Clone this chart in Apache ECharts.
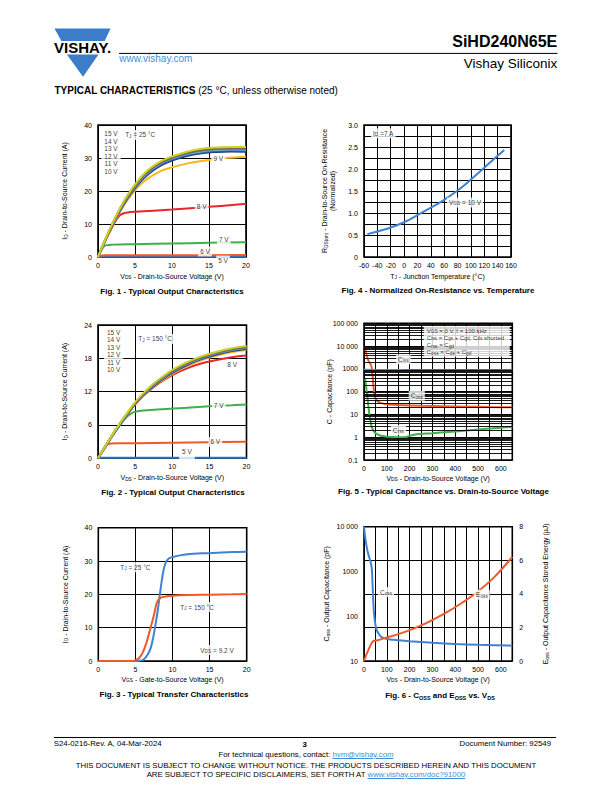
<!DOCTYPE html>
<html><head><meta charset="utf-8">
<script src="https://cdn.jsdelivr.net/npm/echarts@6/dist/echarts.min.js"></script>
<style>
html,body{margin:0;padding:0;background:#fff}
body{width:612px;height:792px;position:relative;overflow:hidden;font-family:"Liberation Sans",Arial,Helvetica,sans-serif;color:#000}
.t{position:absolute;white-space:nowrap;line-height:1}
.cap{position:absolute;width:260px;text-align:center;font-weight:bold;font-size:8px;line-height:1;white-space:nowrap}
.cap sub{font-size:5.5px;vertical-align:-1.5px;line-height:0}
a{color:#3d8fd6}
</style></head><body>
<div id="main" style="position:absolute;left:0;top:0;width:612px;height:792px"></div>

<svg style="position:absolute;left:0;top:0" width="612" height="100">
  <polygon points="54.5,28.6 110.6,28.6 104.7,41 61.4,41" fill="#3b7dc8"/>
  <polygon points="66.9,54.5 98.5,54.5 83,76.8" fill="#3b7dc8"/>
  <text x="82.6" y="53.3" text-anchor="middle" font-family="Liberation Sans, Arial, sans-serif" font-weight="bold" font-size="14" textLength="57" lengthAdjust="spacingAndGlyphs" fill="#000">VISHAY.</text>
  <line x1="119" y1="53.4" x2="557.5" y2="53.4" stroke="#000" stroke-width="1"/>
</svg>
<div class="t" style="left:119.2px;top:53.8px;font-size:10px;color:#3d8fd6">www.vishay.com</div>
<div class="t" style="right:54.8px;top:34px;font-size:16px;font-weight:bold">SiHD240N65E</div>
<div class="t" style="right:54.8px;top:56.8px;font-size:13.5px">Vishay Siliconix</div>
<div class="t" style="left:54.5px;top:85.5px;font-size:10px"><b>TYPICAL CHARACTERISTICS</b> (25 °C, unless otherwise noted)</div>

<div class="cap" style="left:42px;top:287.8px">Fig. 1 - Typical Output Characteristics</div>
<div class="cap" style="left:308px;top:286.5px">Fig. 4 - Normalized On-Resistance vs. Temperature</div>
<div class="cap" style="left:43px;top:489.4px">Fig. 2 - Typical Output Characteristics</div>
<div class="cap" style="left:313.5px;top:487.5px">Fig. 5 - Typical Capacitance vs. Drain-to-Source Voltage</div>
<div class="cap" style="left:44px;top:691px">Fig. 3 - Typical Transfer Characteristics</div>
<div class="cap" style="left:310px;top:691.6px">Fig. 6 - C<sub>OSS</sub> and E<sub>OSS</sub> vs. V<sub>DS</sub></div>

<div style="position:absolute;left:53.8px;top:737.2px;width:502.7px;border-top:1px solid #000"></div>
<div class="t" style="left:53.8px;top:740px;font-size:7.8px">S24-0216-Rev. A, 04-Mar-2024</div>
<div class="t" style="left:302.5px;top:740.5px;font-size:7.8px;font-weight:bold">3</div>
<div class="t" style="right:61px;top:740px;font-size:7.8px">Document Number: 92549</div>
<div class="t" style="left:0;width:612px;text-align:center;top:751px;font-size:7.8px">For technical questions, contact: <a href="#">hvm@vishay.com</a></div>
<div class="t" style="left:0;width:612px;text-align:center;top:762.4px;font-size:7.8px">THIS DOCUMENT IS SUBJECT TO CHANGE WITHOUT NOTICE. THE PRODUCTS DESCRIBED HEREIN AND THIS DOCUMENT</div>
<div class="t" style="left:0;width:612px;text-align:center;top:770.9px;font-size:7.8px">ARE SUBJECT TO SPECIFIC DISCLAIMERS, SET FORTH AT <a href="#">www.vishay.com/doc?91000</a></div>

<script>
// ================= DATA =================
// Fig. 1 - output characteristics, TJ = 25 °C : [VDS (V), ID (A)]
const f1_15V = [[0,0],[1,5.4],[2,10.4],[3,14.9],[4,18.8],[5,22.0],[6,24.7],[7,26.8],[8,28.4],[9,29.6],[10,30.5],[12,31.9],[14,32.8],[16,33.2],[18,33.35],[20,33.3]];
const f1_14V = [[0,0],[1,5.3],[2,10.3],[3,14.8],[4,18.6],[5,21.8],[6,24.5],[7,26.6],[8,28.2],[9,29.4],[10,30.3],[12,31.7],[14,32.6],[16,33.0],[18,33.15],[20,33.1]];
const f1_13V = [[0,0],[1,5.3],[2,10.2],[3,14.6],[4,18.4],[5,21.6],[6,24.2],[7,26.3],[8,27.9],[9,29.1],[10,30.0],[12,31.4],[14,32.3],[16,32.7],[18,32.85],[20,32.8]];
const f1_12V = [[0,0],[1,5.2],[2,10.1],[3,14.5],[4,18.2],[5,21.4],[6,24.0],[7,26.1],[8,27.7],[9,28.9],[10,29.8],[12,31.2],[14,32.0],[16,32.4],[18,32.55],[20,32.5]];
const f1_11V = [[0,0],[1,5.2],[2,10.0],[3,14.3],[4,18.0],[5,21.2],[6,23.8],[7,25.8],[8,27.4],[9,28.6],[10,29.5],[12,30.9],[14,31.7],[16,32.1],[18,32.25],[20,32.2]];
const f1_10V = [[0,0],[1,5.1],[2,9.9],[3,14.1],[4,17.8],[5,20.9],[6,23.5],[7,25.5],[8,27.1],[9,28.3],[10,29.2],[12,30.6],[14,31.4],[16,31.8],[18,31.95],[20,31.9]];
const f1_9V  = [[0,0],[1,5.0],[2,9.7],[3,13.8],[4,17.3],[5,20.2],[6,22.5],[7,24.2],[8,25.5],[9,26.5],[10,27.2],[12,28.3],[14,29.1],[16,29.7],[18,30.1],[20,30.4]];
const f1_8V  = [[0,0],[1,5.0],[2,9.4],[2.5,11.4],[3,12.7],[3.5,13.25],[4,13.5],[5,13.7],[10,14.4],[15,15.2],[20,16.1]];
const f1_7V  = [[0,0],[0.5,2.3],[0.8,3.2],[1.2,3.6],[2,3.75],[5,3.9],[10,4.1],[15,4.3],[20,4.5]];
const f1_6V  = [[0,0],[0.3,0.4],[1,0.5],[10,0.55],[20,0.6]];
const f1_5V  = [[0,0],[0.5,0.05],[20,0.08]];

// Fig. 2 - output characteristics, TJ = 150 °C : [VDS (V), ID (A)]
const f2_15V = [[0,0],[1,2.2],[2,4.4],[3,6.4],[4,8.3],[5,10.1],[6,11.6],[7,12.9],[8,14.0],[9,15.0],[10,15.9],[12,17.3],[14,18.4],[16,19.2],[18,19.8],[20,20.2]];
const f2_14V = [[0,0],[1,2.2],[2,4.4],[3,6.4],[4,8.2],[5,10.0],[6,11.5],[7,12.8],[8,13.9],[9,14.9],[10,15.8],[12,17.2],[14,18.3],[16,19.1],[18,19.7],[20,20.1]];
const f2_13V = [[0,0],[1,2.2],[2,4.3],[3,6.3],[4,8.2],[5,9.9],[6,11.4],[7,12.7],[8,13.8],[9,14.8],[10,15.7],[12,17.1],[14,18.2],[16,19.0],[18,19.6],[20,20.0]];
const f2_12V = [[0,0],[1,2.2],[2,4.3],[3,6.3],[4,8.1],[5,9.9],[6,11.3],[7,12.6],[8,13.7],[9,14.7],[10,15.6],[12,17.0],[14,18.1],[16,18.9],[18,19.5],[20,19.9]];
const f2_11V = [[0,0],[1,2.1],[2,4.3],[3,6.2],[4,8.1],[5,9.8],[6,11.3],[7,12.5],[8,13.6],[9,14.6],[10,15.5],[12,16.9],[14,18.0],[16,18.8],[18,19.4],[20,19.8]];
const f2_10V = [[0,0],[1,2.1],[2,4.2],[3,6.2],[4,8.0],[5,9.8],[6,11.2],[7,12.4],[8,13.5],[9,14.5],[10,15.4],[12,16.8],[14,17.9],[16,18.7],[18,19.3],[20,19.7]];
const f2_9V  = [[0,0],[1,2.1],[2,4.2],[3,6.2],[4,8.0],[5,9.7],[6,11.1],[7,12.3],[8,13.4],[9,14.3],[10,15.2],[12,16.6],[14,17.7],[16,18.5],[18,19.1],[20,19.5]];
const f2_8V  = [[0,0],[1,2.1],[2,4.2],[3,6.2],[4,8.0],[5,9.7],[6,11.1],[7,12.3],[8,13.3],[9,14.2],[10,15.0],[12,16.2],[14,17.1],[16,17.7],[18,18.2],[20,18.5]];
const f2_7V  = [[0,0],[1,2.1],[2,4.2],[3,6.0],[3.5,6.9],[4,7.6],[4.5,8.1],[5,8.4],[6,8.6],[8,8.8],[10,8.95],[12,9.1],[15,9.35],[18,9.55],[20,9.7]];
const f2_6V  = [[0,0],[0.5,1.1],[1,2.1],[1.3,2.5],[1.8,2.65],[3,2.7],[5,2.72],[10,2.8],[15,2.9],[20,3.0]];
const f2_5V  = [[0,0],[0.5,0.08],[1,0.1],[20,0.12]];

// Fig. 3 - transfer characteristics : [VGS (V), ID (A)]
const f3_25C  = [[0,0],[4,0],[5,0],[5.5,0.05],[6,0.3],[6.5,1.4],[7,3.5],[7.3,6],[7.6,9.5],[8,15],[8.3,20],[8.6,24.8],[8.9,28.3],[9.2,30.0],[9.6,30.9],[10,31.2],[11,31.7],[12,32.0],[14,32.3],[16,32.5],[18,32.7],[20,32.8]];
const f3_150C = [[0,0],[4.5,0],[5,0.2],[5.5,0.9],[6,2.6],[6.5,5.6],[7,9.6],[7.5,13.8],[7.8,16.8],[8.0,18.0],[8.3,18.8],[8.7,19.2],[9.2,19.4],[10,19.6],[12,19.8],[15,19.9],[18,20.0],[20,20.1]];

// Fig. 4 - normalized RDS(on) vs TJ : [TJ (°C), RDS(on) norm.]
const f4_rds = [[-55,0.52],[-40,0.58],[-20,0.67],[0,0.79],[20,0.95],[40,1.12],[60,1.3],[80,1.51],[100,1.76],[120,2.03],[140,2.3],[150,2.43]];

// Fig. 5 - capacitance vs VDS : [VDS (V), C (pF)]
const f5_ciss = [[0,950],[20,920],[50,900],[100,890],[200,880],[300,875],[400,870],[500,865],[650,860]];
const f5_coss = [[3,9000],[8,5500],[15,3000],[22,2000],[30,1500],[34,1100],[37,600],[40,250],[43,120],[48,60],[55,42],[70,33],[100,28],[150,26],[250,24],[350,23],[450,22],[550,21],[650,20.5]];
const f5_crss = [[5,360],[10,150],[15,55],[20,20],[23,11],[28,5.5],[34,2.7],[45,1.7],[55,1.4],[75,1.15],[100,1.05],[150,1.0],[185,1.02],[205,1.2],[230,1.35],[300,1.5],[400,1.8],[500,2.2],[600,2.6],[650,2.85]];

// Fig. 6 - Coss (pF) and Eoss (µJ) vs VDS
const f6_coss = [[0,10000],[5,6000],[12,3500],[20,2300],[28,1700],[33,1300],[36,800],[38,450],[41,200],[44,115],[50,65],[56,49],[65,40],[77,34],[100,31],[150,29],[200,27.5],[300,25.5],[400,24],[500,23],[650,22]];
const f6_eoss = [[0,0],[37,1.15],[60,1.24],[100,1.4],[150,1.6],[200,1.84],[275,2.27],[350,2.8],[420,3.38],[495,4.1],[570,4.98],[650,6.2]];

// annotation texts (anchored in data coordinates)
const f1Notes = [[1.76,31.7,'15 V\n14 V\n13 V\n12 V\n11 V\n10 V'],[5.7,37.0,'T_{J} = 25 °C'],[16.26,29.9,'9 V'],[14.0,15.45,'8 V'],[17.0,5.35,'7 V'],[14.46,1.7,'6 V'],[16.9,-1.1,'5 V']];
const f2Notes = [[2.1,19.36,'15 V\n14 V\n13 V\n12 V\n11 V\n10 V'],[7.7,21.5,'T_{J} = 150 °C'],[18.07,16.8,'8 V'],[16.26,9.56,'7 V'],[15.8,2.95,'6 V'],[11.98,0.9,'5 V']];
const f3Notes = [[5.0,28.1,'T_{J} = 25 °C'],[13.3,16.2,'T_{J} = 150 °C'],[16.0,3.3,'V_{DS} = 9.2 V']];
const f4Notes = [[-31.1,2.81,'I_{D} =7 A'],[91.2,1.24,'V_{GS} = 10 V']];
const f5Notes = [[172.6,2630,'C_{iss}'],[231.3,66,'C_{oss}'],[150.7,2.06,'C_{rss}']];
const f5Legend = [[262,76000,'V_{GS} = 0 V, f = 100 kHz\nC_{iss} = C_{gs} + C_{gd}, C_{ds} shorted\nC_{rss} = C_{gd}\nC_{oss} = C_{ds} + C_{gd}']];
const f6Notes = [[96.6,347,'C_{oss}'],[517,302,'E_{oss}']];

// ================= CHART =================
const F = '"Liberation Sans", Arial, Helvetica, sans-serif';
const RICH = { s: { fontSize: 4.8, lineHeight: 4, verticalAlign: 'bottom', fontFamily: F, color: '#000' } };
const sub = t => t.replace(/_\{([^}]*)\}/g, '{s|$1}');
const grids = [], xAxes = [], yAxes = [], series = [];

function mkAxis(d, gi, kind) {
  const a = {
    type: d.log ? 'log' : 'value', gridIndex: gi, min: d.min, max: d.max,
    position: kind === 'x' ? 'bottom' : (kind === 'y' ? 'left' : 'right'),
    name: sub(d.name), nameLocation: 'middle', nameGap: d.gap, nameRotate: kind === 'x' ? 0 : 90,
    nameMoveOverlap: false,
    nameTextStyle: { fontFamily: F, fontSize: 7, color: '#000', lineHeight: 8.4, rich: RICH },
    axisLine: { show: false }, axisTick: { show: false }, minorTick: { show: false },
    axisLabel: { fontFamily: F, fontSize: 7, color: '#000', margin: d.margin, formatter: d.fmt, showMinLabel: true, showMaxLabel: true, hideOverlap: false },
    splitLine: { show: d.split !== false, lineStyle: { color: '#000', width: 1 } }
  };
  if (d.log) a.logBase = 10; else a.interval = d.interval;
  return a;
}

function addChart(c) {
  const gi = grids.length;
  grids.push({ left: c.box[0], top: c.box[1], width: c.box[2], height: c.box[3], show: true,
    borderColor: '#000', borderWidth: 1.6, backgroundColor: 'rgba(0,0,0,0)', containLabel: false, outerBoundsMode: 'none' });
  const xi = xAxes.length; xAxes.push(mkAxis(c.x, gi, 'x'));
  const yi = yAxes.length; yAxes.push(mkAxis(c.y, gi, 'y'));
  let yi2 = yi;
  if (c.y2) { yi2 = yAxes.length; yAxes.push(mkAxis(c.y2, gi, 'y2')); }
  if (c.minor) {
    series.push({ type: 'line', xAxisIndex: xi, yAxisIndex: yi, data: [], z: 1, silent: true, showSymbol: false,
      markLine: { silent: true, symbol: 'none', animation: false, label: { show: false },
        lineStyle: { color: '#000', width: 0.9, type: 'solid' }, data: c.minor.map(v => ({ yAxis: v })) } });
  }
  c.lines.forEach(l => series.push({ type: 'line', xAxisIndex: xi, yAxisIndex: l.right ? yi2 : yi, data: l.data,
    showSymbol: false, symbol: 'none', smooth: l.smooth == null ? 0.4 : l.smooth, z: 3, silent: true,
    lineStyle: { color: l.color, width: l.width || 2 }, animation: false }));
  (c.notes || []).forEach(group => {
    const notes = group.items;
    series.push({ type: 'scatter', xAxisIndex: xi, yAxisIndex: yi, symbolSize: 0, z: 10, clip: false, silent: true, animation: false,
      data: notes.map(n => ({ value: [n[0], n[1]] })),
      label: { show: true, position: 'inside', formatter: p => sub(notes[p.dataIndex][2]),
        align: group.align || 'center', verticalAlign: group.valign || 'middle',
        fontFamily: F, fontSize: group.fs || 6.5, color: '#000', backgroundColor: '#fff',
        padding: group.pad || [1, 2], lineHeight: group.lh || 8, width: group.width, rich: RICH } });
  });
}

const fmt0 = v => String(v);
const fmtHalf = v => (Math.abs(v * 2 - Math.round(v * 2)) < 1e-6 ? (v === 0 ? '0' : v.toFixed(1)) : '');
const fmt100 = v => (Math.abs(v % 100) < 1e-6 ? String(v) : '');
const fmtLog = v => { const n = +(+v).toPrecision(3); return n >= 10000 ? String(n).replace(/\B(?=(\d{3})+(?!\d))/g, ' ') : String(n); };

const C = { lime: '#c9d52c', brown: '#8e5a2c', gray: '#6e6f72', lblue: '#6aaedc', blue: '#2f62b0', navy: '#1f3b7c',
  gold: '#f8b81c', red: '#e8262b', green: '#3fb04a', orange: '#f0592a', blue5: '#2f74c8', mblue: '#3f82d4' };

// Fig 1
addChart({ box: [98, 125, 148, 132],
  x: { min: 0, max: 20, interval: 5, name: 'V_{DS} - Drain-to-Source Voltage (V)', gap: 15, margin: 5, fmt: fmt0 },
  y: { min: 0, max: 40, interval: 10, name: 'I_{D} - Drain-to-Source Current (A)', gap: 29, margin: 6, fmt: fmt0 },
  lines: [ { data: f1_5V, color: C.blue5 }, { data: f1_6V, color: C.orange }, { data: f1_7V, color: C.green },
    { data: f1_8V, color: C.red }, { data: f1_9V, color: C.gold }, { data: f1_10V, color: C.navy },
    { data: f1_11V, color: C.blue }, { data: f1_12V, color: C.lblue }, { data: f1_13V, color: C.gray },
    { data: f1_14V, color: C.brown }, { data: f1_15V, color: C.lime } ],
  notes: [ { items: f1Notes.slice(0, 1), lh: 7.5, pad: [1, 3] }, { items: f1Notes.slice(1) } ] });

// Fig 4
addChart({ box: [364, 125, 147, 132],
  x: { min: -60, max: 160, interval: 20, name: 'T_{J} - Junction Temperature (°C)', gap: 15, margin: 5, fmt: fmt0 },
  y: { min: 0, max: 3, interval: 0.25, name: 'R_{DS(on)} - Drain-to-Source On-Resistance\n(Normalized)', gap: 27, margin: 6, fmt: fmtHalf },
  lines: [ { data: f4_rds, color: C.mblue } ],
  notes: [ { items: f4Notes } ] });

// Fig 2
addChart({ box: [98, 325, 148.5, 133.3],
  x: { min: 0, max: 20, interval: 5, name: 'V_{DS} - Drain-to-Source Voltage (V)', gap: 15, margin: 5, fmt: fmt0 },
  y: { min: 0, max: 24, interval: 6, name: 'I_{D} - Drain-to-Source Current (A)', gap: 29, margin: 6, fmt: fmt0 },
  lines: [ { data: f2_5V, color: C.blue5 }, { data: f2_6V, color: C.orange }, { data: f2_7V, color: C.green },
    { data: f2_8V, color: C.red }, { data: f2_9V, color: C.gold }, { data: f2_10V, color: C.navy },
    { data: f2_11V, color: C.blue }, { data: f2_12V, color: C.lblue }, { data: f2_13V, color: C.gray },
    { data: f2_14V, color: C.brown }, { data: f2_15V, color: C.lime } ],
  notes: [ { items: f2Notes.slice(0, 1), lh: 7.5, pad: [1, 3] }, { items: f2Notes.slice(1, 5) }, { items: f2Notes.slice(5), pad: [1, 3, 4, 3] } ] });

// Fig 5
const minor5 = [];
[0.1, 1, 10, 100, 1000, 10000].forEach(d => { for (let m = 2; m <= 9; m++) minor5.push(+(m * d).toPrecision(3)); });
addChart({ box: [364, 323.3, 148.3, 136.7],
  x: { min: 0, max: 650, interval: 50, name: 'V_{DS} - Drain-to-Source Voltage (V)', gap: 14, margin: 5, fmt: fmt100 },
  y: { log: true, min: 0.1, max: 100000, name: 'C - Capacitance (pF)', gap: 30, margin: 6, fmt: fmtLog },
  minor: minor5,
  lines: [ { data: f5_ciss, color: '#4a8fd6' }, { data: f5_coss, color: C.orange, smooth: 0.25 }, { data: f5_crss, color: C.green, smooth: 0.25 } ],
  notes: [ { items: f5Notes }, { items: f5Legend, align: 'left', valign: 'top', lh: 7.2, fs: 6, pad: [1, 1, 1, 3], width: 82 } ] });

// Fig 3
addChart({ box: [98.3, 527.7, 148.4, 133.3],
  x: { min: 0, max: 20, interval: 5, name: 'V_{GS} - Gate-to-Source Voltage (V)', gap: 14, margin: 5, fmt: fmt0 },
  y: { min: 0, max: 40, interval: 10, name: 'I_{D} - Drain-to-Source Current (A)', gap: 29, margin: 6, fmt: fmt0 },
  lines: [ { data: f3_25C, color: C.mblue, smooth: 0.3 }, { data: f3_150C, color: C.orange, smooth: 0.3 } ],
  notes: [ { items: f3Notes } ] });

// Fig 6
addChart({ box: [364, 526.7, 148.3, 134.3],
  x: { min: 0, max: 650, interval: 50, name: 'V_{DS} - Drain-to-Source Voltage (V)', gap: 14, margin: 5, fmt: fmt100 },
  y: { log: true, min: 10, max: 10000, name: 'C_{oss} - Output Capacitance (pF)', gap: 33, margin: 6, fmt: fmtLog, split: false },
  y2: { min: 0, max: 8, interval: 2, name: 'E_{oss} - Output Capacitance Stored Energy (µJ)', gap: 29, margin: 7, fmt: fmt0 },
  lines: [ { data: f6_coss, color: C.mblue, smooth: 0.25 }, { data: f6_eoss, color: C.orange, right: true, smooth: 0.3 } ],
  notes: [ { items: f6Notes } ] });

const chart = echarts.init(document.getElementById('main'), null, { renderer: 'svg', width: 612, height: 792 });
chart.setOption({ animation: false, backgroundColor: 'transparent', grid: grids, xAxis: xAxes, yAxis: yAxes, series: series });
</script>
</body></html>
